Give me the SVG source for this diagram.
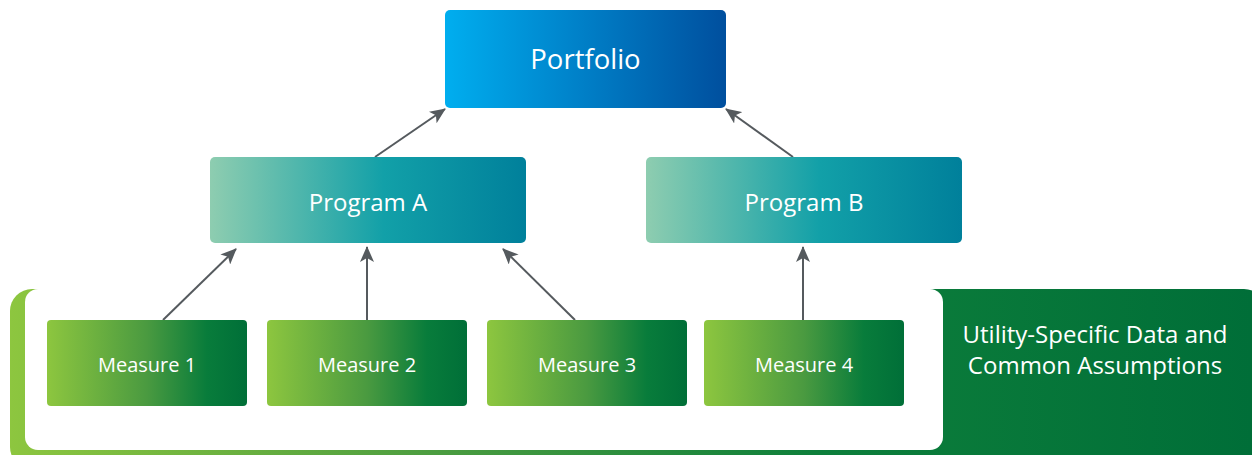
<svg xmlns="http://www.w3.org/2000/svg" width="1252" height="455" viewBox="0 0 1252 455">
  <defs>
    <linearGradient id="gPortfolio" x1="0" y1="0" x2="1" y2="0">
      <stop offset="0" stop-color="#00aeef"/>
      <stop offset="1" stop-color="#004f9e"/>
    </linearGradient>
    <linearGradient id="gProgram" x1="0" y1="0" x2="1" y2="0">
      <stop offset="0" stop-color="#8ecdb0"/>
      <stop offset="0.55" stop-color="#12a0a8"/>
      <stop offset="1" stop-color="#00809b"/>
    </linearGradient>
    <linearGradient id="gMeasure" x1="0" y1="0" x2="1" y2="0">
      <stop offset="0" stop-color="#8dc63f"/>
      <stop offset="0.5" stop-color="#4a9a40"/>
      <stop offset="0.8" stop-color="#087c3b"/>
      <stop offset="1" stop-color="#006f38"/>
    </linearGradient>
    <linearGradient id="gFrame" gradientUnits="userSpaceOnUse" x1="10" y1="0" x2="1252" y2="0">
      <stop offset="0" stop-color="#8dc63f"/>
      <stop offset="0.35" stop-color="#4a9c40"/>
      <stop offset="0.65" stop-color="#0d7f3b"/>
      <stop offset="1" stop-color="#006e38"/>
    </linearGradient>
    <marker id="arrow" viewBox="0 0 16 14" refX="15" refY="7" markerWidth="16" markerHeight="14" markerUnits="userSpaceOnUse" orient="auto">
      <path d="M0,0 L16,7 L0,14 L4,7 Z" fill="#555a5e"/>
    </marker>
    <style>
      .lbl { font-family: "Open Sans", "Liberation Sans", sans-serif; fill: #ffffff; text-anchor: middle; dominant-baseline: central; }
      .edge { stroke: #555a5e; stroke-width: 2; fill: none; marker-end: url(#arrow); }
    </style>
  </defs>

  <rect width="1252" height="455" fill="#ffffff"/>

  <!-- shared data frame -->
  <g id="frame">
    <rect x="10" y="289" width="1256" height="180" rx="22" fill="url(#gFrame)"/>
    <rect x="25" y="289" width="918" height="161" rx="13" fill="#ffffff"/>
    <text class="lbl" x="1095" y="333" font-size="24">Utility-Specific Data and</text>
    <text class="lbl" x="1095" y="364" font-size="24">Common Assumptions</text>
  </g>

  <g id="connectors">
    <line class="edge" x1="375" y1="157" x2="445" y2="109"/>
    <line class="edge" x1="793" y1="157" x2="726" y2="109"/>
    <line class="edge" x1="163" y1="320" x2="236" y2="249"/>
    <line class="edge" x1="367" y1="320" x2="367" y2="247"/>
    <line class="edge" x1="575" y1="320" x2="503" y2="249"/>
    <line class="edge" x1="803" y1="320" x2="803" y2="247"/>
  </g>

  <g id="portfolio">
    <rect x="445" y="10" width="281" height="98" rx="5" fill="url(#gPortfolio)"/>
    <text class="lbl" x="585.5" y="58" font-size="27.5">Portfolio</text>
  </g>

  <g id="program-a">
    <rect x="210" y="157" width="316" height="86" rx="5" fill="url(#gProgram)"/>
    <text class="lbl" x="368" y="201" font-size="24">Program A</text>
  </g>

  <g id="program-b">
    <rect x="646" y="157" width="316" height="86" rx="5" fill="url(#gProgram)"/>
    <text class="lbl" x="804" y="201" font-size="24">Program B</text>
  </g>

  <g id="measure-1">
    <rect x="47" y="320" width="200" height="86" rx="4" fill="url(#gMeasure)"/>
    <text class="lbl" x="147" y="364" font-size="20">Measure 1</text>
  </g>

  <g id="measure-2">
    <rect x="267" y="320" width="200" height="86" rx="4" fill="url(#gMeasure)"/>
    <text class="lbl" x="367" y="364" font-size="20">Measure 2</text>
  </g>

  <g id="measure-3">
    <rect x="487" y="320" width="200" height="86" rx="4" fill="url(#gMeasure)"/>
    <text class="lbl" x="587" y="364" font-size="20">Measure 3</text>
  </g>

  <g id="measure-4">
    <rect x="704" y="320" width="200" height="86" rx="4" fill="url(#gMeasure)"/>
    <text class="lbl" x="804" y="364" font-size="20">Measure 4</text>
  </g>
</svg>
